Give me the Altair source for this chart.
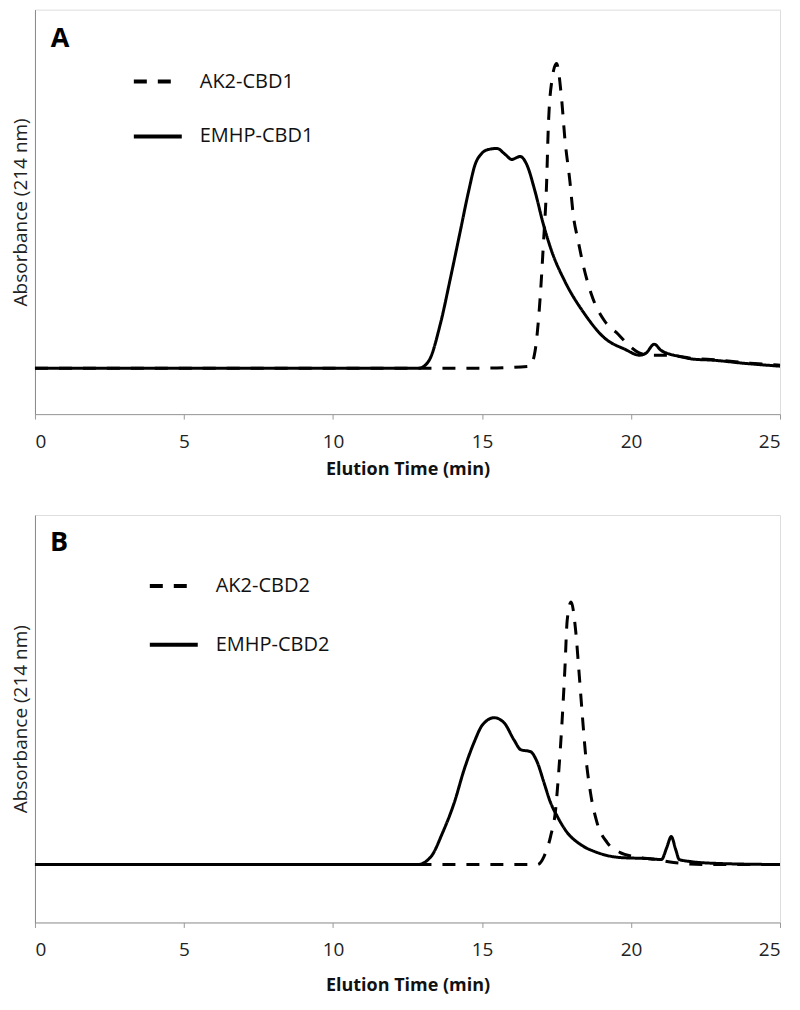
import altair as alt
import pandas as pd

# ---------------- Panel A data ----------------
series_a = ["AK2-CBD1", "EMHP-CBD1"]
t_ak2_cbd1 = [0, 5, 10, 15, 16.61, 16.78, 16.95, 17.06, 17.17, 17.22, 17.34, 17.50,
              17.67, 17.78, 17.95, 18.06, 18.23, 18.39, 18.67, 19.12, 19.57, 19.96,
              20.3, 20.7, 21.2, 22.0, 23.0, 24.0, 25.0]
a_ak2_cbd1 = [0, 0, 0, 0, 0.02, 0.17, 0.70, 1.24, 1.87, 2.37, 2.87, 3.05,
              2.70, 2.30, 1.87, 1.54, 1.27, 1.04, 0.74, 0.47, 0.34, 0.22,
              0.15, 0.13, 0.13, 0.10, 0.08, 0.05, 0.03]
t_emhp_cbd1 = [0, 5, 10, 12.5, 12.88, 13.21, 13.60, 13.94, 14.27, 14.55, 14.77, 14.99,
               15.22, 15.50, 15.78, 16.00, 16.28, 16.50, 16.78, 17.06, 17.34, 17.78,
               18.45, 19.12, 19.79, 20.29, 20.5, 20.78, 21.0, 21.3, 21.6, 22.1, 22.75,
               23.75, 25.0]
a_emhp_cbd1 = [0, 0, 0, 0, 0.00, 0.07, 0.44, 0.90, 1.37, 1.77, 2.04, 2.15,
               2.19, 2.20, 2.14, 2.09, 2.12, 2.04, 1.77, 1.44, 1.17, 0.87,
               0.54, 0.30, 0.19, 0.13, 0.15, 0.24, 0.18, 0.14, 0.12, 0.09, 0.08,
               0.05, 0.02]

# ---------------- Panel B data ----------------
series_b = ["AK2-CBD2", "EMHP-CBD2"]
t_ak2_cbd2 = [0, 5, 10, 15, 16.86, 17.08, 17.30, 17.47, 17.58, 17.69, 17.78, 17.86,
              17.99, 18.14, 18.25, 18.36, 18.47, 18.64, 18.86, 19.20, 19.64, 20.09,
              20.87, 21.43, 22.5, 25.0]
a_ak2_cbd2 = [0, 0, 0, 0, 0, 0.08, 0.28, 0.55, 0.95, 1.45, 1.95, 2.45,
              2.63, 2.35, 1.95, 1.52, 1.12, 0.72, 0.42, 0.22, 0.12, 0.08,
              0.05, 0.02, 0.0, 0.0]
t_emhp_cbd2 = [0, 5, 10, 12.5, 12.84, 13.29, 13.68, 14.07, 14.40, 14.73, 15.02, 15.41,
               15.74, 16.07, 16.30, 16.63, 16.86, 17.08, 17.30, 17.53, 17.86, 18.31,
               18.87, 19.64, 20.54, 21.02, 21.2, 21.35, 21.5, 21.62, 22.0, 23.0, 25.0]
a_emhp_cbd2 = [0, 0, 0, 0, 0, 0.08, 0.32, 0.62, 0.95, 1.22, 1.40, 1.47,
               1.42, 1.25, 1.15, 1.13, 1.02, 0.82, 0.62, 0.48, 0.32, 0.20,
               0.12, 0.07, 0.06, 0.05, 0.17, 0.28, 0.15, 0.05, 0.03, 0.01, 0.0]

x_ticks = [0, 5, 10, 15, 20, 25]

FONT = "Open Sans"


def make_df(names, ts, vals):
    rows = []
    for name, t, v in zip(names, ts, vals):
        for i, (ti, vi) in enumerate(zip(t, v)):
            rows.append({"time": ti, "absorbance": vi, "series": name, "order": i})
    return pd.DataFrame(rows)


df_a = make_df(series_a, [t_ak2_cbd1, t_emhp_cbd1], [a_ak2_cbd1, a_emhp_cbd1])
df_b = make_df(series_b, [t_ak2_cbd2, t_emhp_cbd2], [a_ak2_cbd2, a_emhp_cbd2])


def panel(df, names, letter, ydomain, height, lx, ly, row_pad, title_pad, letter_xy):
    line = alt.Chart(df).mark_line(
        color="black", strokeWidth=3, interpolate="monotone", strokeCap="butt"
    ).encode(
        x=alt.X("time:Q",
                scale=alt.Scale(domain=[0, 25], nice=False, zero=False),
                axis=alt.Axis(values=x_ticks, title="Elution Time (min)",
                              labelFont=FONT, labelFontSize=19, labelColor="#222",
                              tickColor="#999", tickSize=5, domainColor="#999",
                              labelPadding=13, grid=False,
                              titleFont=FONT, titleFontSize=18, titleFontWeight="bold",
                              titleColor="#111", titlePadding=title_pad)),
        y=alt.Y("absorbance:Q",
                scale=alt.Scale(domain=ydomain, nice=False, zero=False),
                axis=alt.Axis(title="Absorbance (214 nm)", labels=False, ticks=False,
                              grid=False, domainColor="#888",
                              titleFont=FONT, titleFontSize=19, titleFontWeight="normal",
                              titleColor="#222", titlePadding=4)),
        strokeDash=alt.StrokeDash(
            "series:N",
            scale=alt.Scale(domain=names, range=[[13, 11], [1, 0]]),
            legend=alt.Legend(title=None, orient="none", legendX=lx, legendY=ly,
                              symbolType="stroke", symbolSize=2304,
                              symbolStrokeWidth=4, symbolStrokeColor="black",
                              labelFont=FONT, labelFontSize=20, labelColor="#111",
                              labelOffset=16, rowPadding=row_pad, padding=0),
        ),
        order="order:Q",
    )
    txt = alt.Chart(pd.DataFrame({"label": [letter]})).mark_text(
        font=FONT, fontSize=27, fontWeight="bold", align="center", baseline="middle",
        color="black"
    ).encode(x=alt.value(letter_xy[0]), y=alt.value(letter_xy[1]), text="label:N")
    return alt.layer(line, txt).properties(width=746, height=height)


chart_a = panel(df_a, series_a, "A", [-0.46, 3.59], 405, 97, 46, 19, 9, (25, 29))
chart_b = panel(df_b, series_b, "B", [-0.58, 3.50], 408, 113, 45, 23, 17, (24, 28))

chart = alt.vconcat(chart_a, chart_b, spacing=35).resolve_scale(
    strokeDash="independent", y="independent"
).resolve_legend(strokeDash="independent").properties(
    padding={"left": 3, "top": 0, "right": 5, "bottom": 5}
).configure_view(stroke="#999", strokeWidth=1).configure(background="white")

chart.save("out.html", embed_options={"renderer": "svg", "actions": False})
